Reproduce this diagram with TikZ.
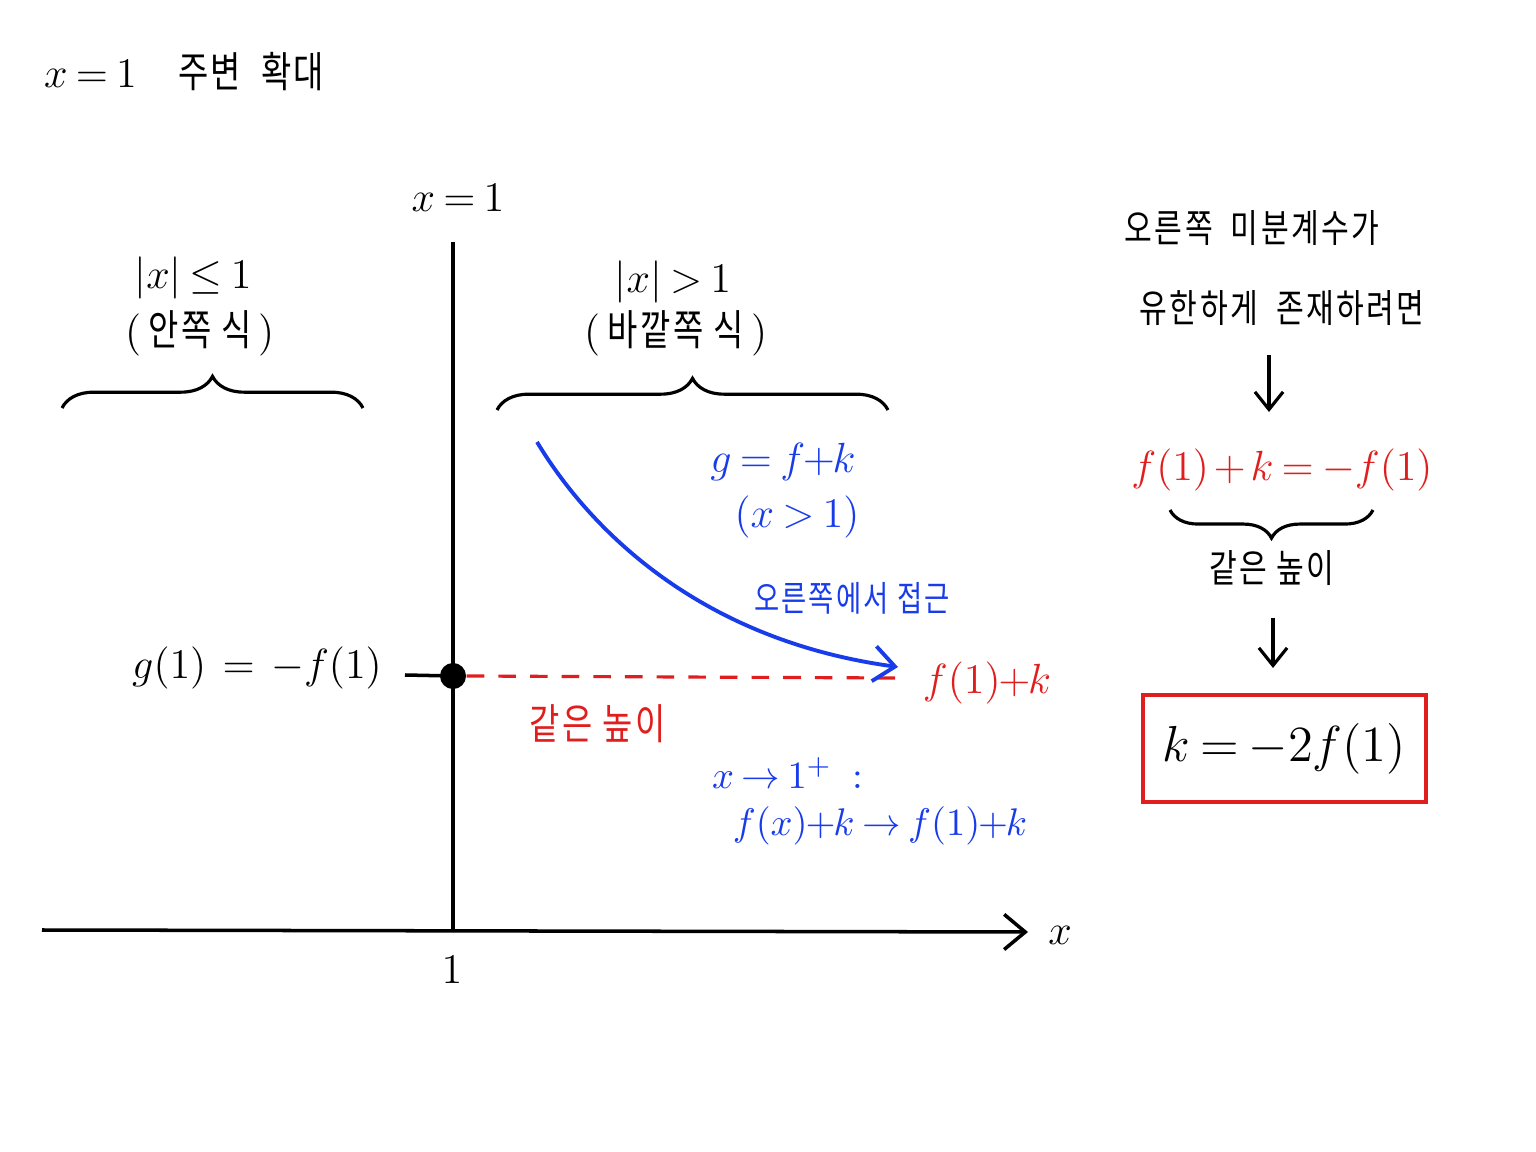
\documentclass[tikz,border=0pt]{standalone}
\usepackage{fontspec}
\usepackage{amsmath}
\newfontfamily\kr[FakeStretch=0.78, LetterSpace=6]{Noto Sans CJK KR}
\usetikzlibrary{arrows.meta,decorations.pathreplacing}
\definecolor{myblue}{RGB}{25,60,235}
\definecolor{myred}{RGB}{225,30,30}
\thickmuskip=3.5mu plus 1mu
\medmuskip=2mu plus 1mu
\begin{document}
\begin{tikzpicture}[x=0.01cm,y=-0.01cm,
  lbl/.style={inner sep=1pt, font=\fontsize{12}{14}\selectfont},
  mid/.style={inner sep=1pt, font=\fontsize{11}{13}\selectfont},
  small/.style={inner sep=1pt, font=\fontsize{10}{12}\selectfont},
  big/.style={inner sep=1pt, font=\fontsize{13}{15}\selectfont},
  axis/.style={line width=1pt},
  brc/.style={decorate, decoration={brace, amplitude=9pt}, line width=0.9pt},
  arr/.style={-{Straight Barb[length=5pt,width=8pt]}, line width=0.9pt}]
\useasboundingbox (0,0) rectangle (1536,1152);
% title
\node[lbl, anchor=west] (title) at (40,72) {$x = 1$\ \ \ {\kr 주변\ \ 확대}};
% axes
\coordinate (vtop) at (453,242);
\coordinate (vbot) at (453,930);
\draw[axis] (vtop) -- (vbot);
\node[lbl] (xeq1) at (458,198) {$x = 1$};
\coordinate (hl) at (42,930);
\coordinate (hr) at (1028,932);
\draw[axis, -{Straight Barb[length=6pt,width=10pt]}] (hl) -- (hr);
\node[big] (xlab) at (1060,935) {$x$};
\node[lbl] (one) at (452,970) {$1$};
% dot and tick
\node[circle, fill=black, minimum size=0.26cm, inner sep=0pt] (dot) at (453,676) {};
\coordinate (tickl) at (405,675);
\draw[axis] (tickl) -- (dot.center);
\node[big] (gval) at (257,668) {$g(1) \;=\; -f(1)$};
% red dashed
\coordinate (dashend) at (895,678);
\draw[myred, line width=0.9pt, dash pattern=on 5pt off 4pt] (dot.east) -- (dashend);
\node[lbl, text=myred] (same1) at (598,724) {\kr 같은\ 높이};
\node[lbl, text=myred] (f1k) at (987,683) {$f(1)\!+\!k$};
% blue curve
\coordinate (cs) at (537,442);
\coordinate (ce) at (898,667);
\draw[myblue, line width=1.1pt, -{Straight Barb[length=6pt,width=10pt]}] (cs) .. controls (590,530) and (700,640) .. (ce);
\node[lbl, text=myblue] (gfk) at (783,462) {$g = f\!+\!k$};
\node[lbl, text=myblue] (xg1) at (797,517) {$(x > 1)$};
\node[small, text=myblue] (appr) at (852,598) {\kr 오른쪽에서\ 접근};
\node[mid, text=myblue, anchor=west] (lim1) at (708,773) {$x \to 1^{+}\ :$};
\node[mid, text=myblue] (lim2) at (880,826) {$f(x)\!+\!k \to f(1)\!+\!k$};
% braces
\coordinate (b1l) at (62,408);
\coordinate (b1r) at (363,408);
\draw[brc] (b1l) -- (b1r);
\node[lbl] (inq) at (193,278) {$|x| \le 1$};
\node[lbl] (inn) at (200,333) {(\,{\kr 안쪽\ 식}\,)};
\coordinate (b2l) at (497,410);
\coordinate (b2r) at (888,410);
\draw[brc] (b2l) -- (b2r);
\node[lbl] (outq) at (673,282) {$|x| > 1$};
\node[lbl] (outn) at (676,333) {(\,{\kr 바깥쪽\ 식}\,)};
% right column
\node[mid] (r1) at (1252,228) {\kr 오른쪽\ \ 미분계수가};
\node[mid] (r2) at (1282,308) {\kr 유한하게\ \ 존재하려면};
\coordinate (a1s) at (1269,355);
\coordinate (a1e) at (1269,412);
\draw[arr] (a1s) -- (a1e);
\node[big, text=myred] (eq) at (1282,470) {$f(1) + k = -f(1)$};
\coordinate (b3l) at (1170,510);
\coordinate (b3r) at (1373,510);
\draw[brc, decoration={brace, amplitude=8pt, mirror}] (b3l) -- (b3r);
\node[mid] (same2) at (1272,568) {\kr 같은\ 높이};
\coordinate (a2s) at (1273,618);
\coordinate (a2e) at (1273,668);
\draw[arr] (a2s) -- (a2e);
\node[draw=myred, line width=1pt, minimum width=2.83cm, minimum height=1.07cm, font=\fontsize{14}{16}\selectfont] (res) at (1284.5,748.5) {$k = -2f(1)$};
\end{tikzpicture}
\end{document}
